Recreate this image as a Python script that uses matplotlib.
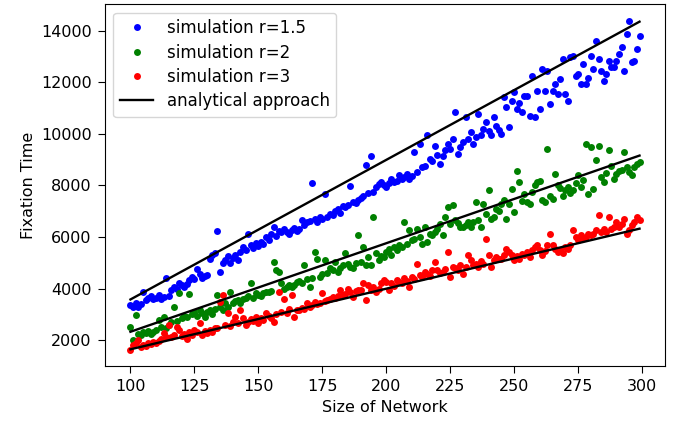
import matplotlib
matplotlib.use("Agg")
import matplotlib.pyplot as plt
import numpy as np

# Network sizes
sizes = list(range(100, 300))

# Simulated fixation times
sim_r15 = [
    3350, 3280, 3420, 3300, 3380, 3870, 3560, 3620, 3700, 3580,
    3650, 3740, 3610, 3680, 4390, 3720, 3950, 4050, 3980, 4200,
    4120, 4060, 4180, 4320, 4450, 4380, 4740, 4580, 4420, 4500,
    4520, 5160, 5300, 5360, 6230, 4650, 5000, 5100, 5250, 4980,
    5180, 5290, 5120, 5420, 5600, 5500, 6130, 5680, 5560, 5750,
    5640, 5800, 5720, 6000, 5900, 6120, 6390, 6050, 6250, 6180,
    6320, 6200, 6100, 6280, 6350, 6240, 6300, 6650, 6450, 6580,
    6620, 8100, 6700, 6590, 6760, 6700, 7680, 6780, 6900, 6850,
    7000, 7100, 6950, 7200, 7150, 7250, 7960, 7350, 7300, 7420,
    7500, 7600, 8780, 7700, 9160, 7740, 7950, 8050, 8130, 8000,
    7940, 8100, 8260, 8150, 8190, 8400, 8250, 8320, 8450, 8260,
    8350, 9290, 8520, 9610, 8700, 8770, 9940, 9030, 8950, 9550,
    9200, 8840, 9150, 9360, 9610, 9400, 9810, 10840, 9230, 9500,
    9680, 10650, 9800, 10070, 9610, 9900, 10780, 9940, 10200, 10450,
    10100, 9940, 10650, 10300, 10150, 10000, 11420, 11030, 10260, 11290,
    11610, 10970, 11200, 10840, 11490, 11480, 10710, 12260, 10650, 11680,
    10970, 12520, 11680, 12450, 11160, 11680, 11940, 11550, 12130, 12900,
    11550, 11290, 12970, 13030, 12260, 12320, 11940, 12710, 11940, 12190,
    13030, 12520, 13610, 12900, 12450, 12070, 12320, 12840, 12580, 12580,
    12840, 13100, 13360, 12450, 13870, 14390, 12780, 12840, 13290, 13810,
]

sim_r2 = [
    2520, 2000, 2970, 2250, 2200, 2320, 2280, 2350, 2240, 2310,
    2400, 2780, 2500, 2900, 2450, 2600, 2700, 3290, 2750, 3810,
    2850, 2950, 2900, 3780, 3000, 3100, 2950, 3160, 3050, 2900,
    3100, 3160, 3000, 3200, 3740, 3300, 3160, 3420, 3300, 3870,
    3420, 3500, 3550, 3450, 3600, 3650, 3700, 4200, 3620, 3810,
    3750, 3700, 3810, 3870, 3850, 3900, 5030, 4710, 4650, 4200,
    4000, 4070, 4150, 4050, 4130, 4250, 4300, 4200, 4900, 4350,
    4070, 4400, 5420, 5160, 4450, 4550, 5100, 4600, 4780, 4700,
    5030, 4650, 4800, 4900, 5360, 4970, 4850, 4780, 5000, 6070,
    5030, 5610, 4910, 5230, 4900, 6780, 5360, 5100, 5250, 5230,
    5400, 5550, 5300, 5600, 5490, 5700, 5600, 6580, 5740, 6260,
    5900, 5940, 6320, 6000, 5740, 6390, 5810, 6100, 6070, 6200,
    6300, 6520, 6070, 6780, 7160, 6500, 7230, 6650, 6550, 6390,
    6390, 6450, 6580, 6390, 6600, 7360, 6650, 6390, 7290, 6900,
    7810, 6710, 6780, 7100, 7000, 7290, 7420, 6710, 7290, 7870,
    6970, 8580, 8130, 7400, 7680, 7360, 7290, 7740, 8000, 8130,
    8190, 7420, 7360, 9420, 7600, 7480, 8450, 8000, 7900, 7610,
    7810, 7940, 7700, 7810, 8100, 8390, 7940, 8200, 9610, 7680,
    9480, 7870, 8970, 9550, 8320, 8130, 8500, 9360, 8770, 8260,
    8450, 8580, 8600, 9290, 8710, 8520, 8390, 8710, 8840, 8900,
]

sim_r3 = [
    1620, 1810, 1870, 2000, 1740, 1800, 1750, 1900, 1850, 1940,
    1880, 1950, 2050, 2260, 2130, 2580, 2100, 2200, 2520, 2390,
    2150, 2250, 2050, 2300, 2200, 2390, 2300, 2670, 2200, 2350,
    2280, 2390, 2300, 2450, 2450, 3490, 3740, 2600, 3030, 2550,
    2710, 2900, 2650, 3160, 2840, 2600, 2700, 2800, 2750, 2900,
    2650, 2850, 2780, 3030, 2950, 2850, 2710, 3000, 3870, 3100,
    3610, 3050, 3200, 3740, 2900, 3150, 3160, 3250, 3200, 3420,
    3300, 3350, 3490, 3400, 3450, 3810, 3500, 3550, 3600, 3680,
    3620, 3700, 3940, 3750, 3800, 4000, 3850, 3680, 3900, 3940,
    3950, 4200, 3550, 4130, 3940, 4070, 3870, 4000, 4200, 4320,
    4250, 3940, 4200, 4100, 4320, 4250, 4200, 4390, 4300, 4070,
    4450, 4350, 4970, 4520, 4450, 4650, 4580, 4500, 4700, 5030,
    4710, 4600, 4650, 4750, 5420, 4450, 4840, 4800, 4710, 4900,
    4580, 4850, 5290, 5100, 4900, 4950, 4840, 5050, 4970, 5940,
    5290, 4840, 5100, 5230, 5150, 5160, 5300, 5550, 5420, 5300,
    5100, 5250, 5160, 5350, 5290, 5400, 5230, 5500, 5610, 5680,
    5500, 5290, 5450, 5680, 6130, 5680, 5550, 5420, 5500, 5360,
    5600, 5550, 5700, 6260, 6000, 5900, 6070, 5950, 6000, 6100,
    6070, 6130, 6260, 6840, 6200, 6320, 6190, 6780, 6300, 6390,
    6580, 6400, 6500, 6710, 6130, 6260, 6450, 6580, 6780, 6650,
]

# Analytical approach (straight lines, endpoints)
ana_x = [100, 299]
ana_r15 = [3575, 14357]
ana_r2 = [2321, 9160]
ana_r3 = [1640, 6323]

labels = ["simulation r=1.5", "simulation r=2", "simulation r=3", "analytical approach"]

FS = 11.5
plt.rcParams['font.family'] = ['DejaVu Sans']
fig = plt.figure(figsize=(6.74, 4.23), dpi=100)
ax = fig.add_axes([0.1558, 0.1348, 0.9866 - 0.1558, 0.990 - 0.1348])

ms = 5.0
ax.plot(sizes, sim_r15, linestyle='none', marker='o', ms=ms, mew=0, color='#0000ff', label=labels[0])
ax.plot(sizes, sim_r2, linestyle='none', marker='o', ms=ms, mew=0, color='#008000', label=labels[1])
ax.plot(sizes, sim_r3, linestyle='none', marker='o', ms=ms, mew=0, color='#ff0000', label=labels[2])
ax.plot(ana_x, ana_r15, color='black', lw=1.7, label=labels[3])
ax.plot(ana_x, ana_r2, color='black', lw=1.7)
ax.plot(ana_x, ana_r3, color='black', lw=1.7)

ax.set_xlim(90.05, 308.95)
ax.set_ylim(993, 15034)
ax.set_xticks([100, 125, 150, 175, 200, 225, 250, 275, 300])
ax.set_yticks([2000, 4000, 6000, 8000, 10000, 12000, 14000])
ax.tick_params(labelsize=FS, length=5, pad=4.5)
ax.set_xlabel("Size of Network", fontsize=FS)
ax.set_ylabel("Fixation Time", fontsize=FS)

ax.legend(loc='upper left', numpoints=1, fontsize=12.0, handlelength=2.0,
          borderpad=0.4, labelspacing=0.38, handletextpad=0.8,
          bbox_to_anchor=(0.0, 1.0))

fig.savefig("out.png", dpi=100)
